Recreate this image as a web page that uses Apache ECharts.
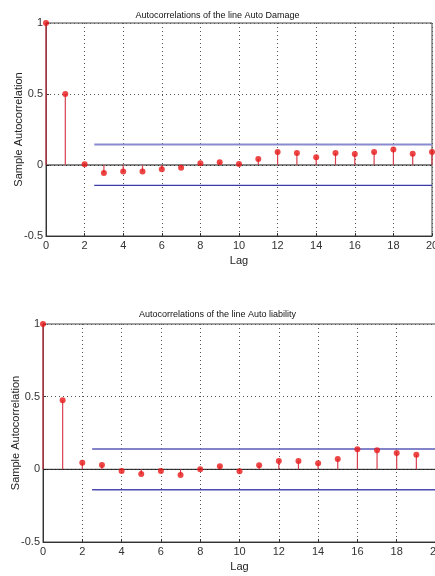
<!DOCTYPE html>
<html>
<head>
<meta charset="utf-8">
<script src="https://cdn.jsdelivr.net/npm/echarts@6/dist/echarts.min.js"></script>
<style>
html,body{margin:0;padding:0;background:#fff;}
#chart{width:435px;height:576px;}
</style>
</head>
<body>
<div id="chart"></div>
<script>
// ---- data ----
const titleDamage = 'Autocorrelations of the line Auto Damage';
const titleLiability = 'Autocorrelations of the line Auto liability';
const lagsDamage = [0,1,2,3,4,5,6,7,8,9,10,11,12,13,14,15,16,17,18,19,20];
const acfDamage = [1, 0.50, 0.005, -0.056, -0.045, -0.045, -0.030, -0.019, 0.012, 0.019, 0.007, 0.042, 0.092, 0.085, 0.054, 0.085, 0.078, 0.092, 0.110, 0.080, 0.092];
const lagsLiability = [0,1,2,3,4,5,6,7,8,9,10,11,12,13,14,15,16,17,18,19];
const acfLiability = [1, 0.476, 0.046, 0.030, -0.011, -0.032, -0.011, -0.039, 0.000, 0.021, -0.014, 0.028, 0.057, 0.057, 0.041, 0.071, 0.138, 0.131, 0.113, 0.101];
const boundDamage = 0.144;
const boundLiability = 0.14;
const boundStartLag = 2.5;
const maxLag = 20;
const yTicks = [-0.5, 0, 0.5, 1];

const FONT = '"Liberation Sans Narrow","Liberation Sans",Arial,sans-serif';

function pairs(xs, ys){ return xs.map((x,i)=>[x, ys[i]]); }

function axesFor(idx){
  const x = {
    type:'value', gridIndex: idx, min:0, max:maxLag, interval:2,
    name:'Lag', nameLocation:'middle', nameGap:19,
    nameTextStyle:{fontFamily:FONT, fontSize:11, color:'#222'},
    axisLine:{show:true, onZero:false, lineStyle:{color:'#333', width:1}},
    axisTick:{show:true, inside:true, length:3, lineStyle:{color:'#333'}},
    axisLabel:{fontFamily:FONT, fontSize:11, color:'#333', margin:4, showMaxLabel:true},
    splitLine:{show:true, lineStyle:{color:'#555', type:[1,3], width:1}}
  };
  const y = {
    type:'value', gridIndex: idx, min:yTicks[0], max:yTicks[yTicks.length-1], interval:0.5,
    name:'Sample Autocorrelation', nameLocation:'middle', nameGap:22, nameRotate:90, nameMoveOverlap:false,
    nameTextStyle:{fontFamily:FONT, fontSize:11, color:'#222'},
    axisLine:{show:true, onZero:false, lineStyle:{color:'#333', width:1}},
    axisTick:{show:true, inside:true, length:3, lineStyle:{color:'#333'}},
    axisLabel:{fontFamily:FONT, fontSize:11, color:'#333', margin:3},
    splitLine:{show:true, lineStyle:{color:'#555', type:[1,3], width:1}}
  };
  return [x,y];
}

function stemSeries(idx, data){
  return {
    type:'custom', xAxisIndex:idx, yAxisIndex:idx, z:3,
    data: data,
    renderItem: function(params, api){
      const p0 = api.coord([api.value(0), 0]);
      const p1 = api.coord([api.value(0), api.value(1)]);
      return {type:'line', shape:{x1:p0[0], y1:p0[1], x2:p1[0], y2:p1[1]},
              style:{stroke:'#d8404f', lineWidth:1.2}};
    }
  };
}
function markerSeries(idx, data){
  return {type:'scatter', xAxisIndex:idx, yAxisIndex:idx, data:data, symbol:'circle', symbolSize:6,
          itemStyle:{color:'#e81818'}, z:5, silent:true};
}
function lineSeries(idx, data, color, width, z){
  return {type:'line', xAxisIndex:idx, yAxisIndex:idx, data:data, symbol:'none',
          lineStyle:{color:color, width:width}, z:z, silent:true};
}

const a0 = axesFor(0), a1 = axesFor(1);

const option = {
  animation:false,
  backgroundColor:'#fff',
  title:[
    {text:titleDamage, left:'center', top:6, textStyle:{fontFamily:FONT, fontSize:9, fontWeight:'normal', color:'#111'}},
    {text:titleLiability, left:'center', top:305, textStyle:{fontFamily:FONT, fontSize:9, fontWeight:'normal', color:'#111'}}
  ],
  grid:[
    {left:46, top:23, width:386, height:213, show:true, borderColor:'#444', borderWidth:1, backgroundColor:'#fff', containLabel:false, outerBoundsMode:'none'},
    {left:43, top:324, width:393, height:218, show:true, borderColor:'#444', borderWidth:1, backgroundColor:'#fff', containLabel:false, outerBoundsMode:'none'}
  ],
  xAxis:[a0[0], a1[0]],
  yAxis:[a0[1], a1[1]],
  series:[
    lineSeries(0, [[0,0],[maxLag,0]], '#111', 1, 2),
    lineSeries(0, [[boundStartLag, boundDamage],[maxLag, boundDamage]], '#8a8ad0', 2, 2),
    lineSeries(0, [[boundStartLag, -boundDamage],[maxLag, -boundDamage]], '#3a3aa8', 1.3, 2),
    stemSeries(0, pairs(lagsDamage, acfDamage)),
    markerSeries(0, pairs(lagsDamage, acfDamage)),
    lineSeries(1, [[0,0],[maxLag,0]], '#111', 1, 2),
    lineSeries(1, [[boundStartLag, boundLiability],[maxLag, boundLiability]], '#5a5ab8', 1.5, 2),
    lineSeries(1, [[boundStartLag, -boundLiability],[maxLag, -boundLiability]], '#4a4ab0', 1.5, 2),
    stemSeries(1, pairs(lagsLiability, acfLiability)),
    markerSeries(1, pairs(lagsLiability, acfLiability))
  ]
};
echarts.init(document.getElementById('chart')).setOption(option);
</script>
</body>
</html>
